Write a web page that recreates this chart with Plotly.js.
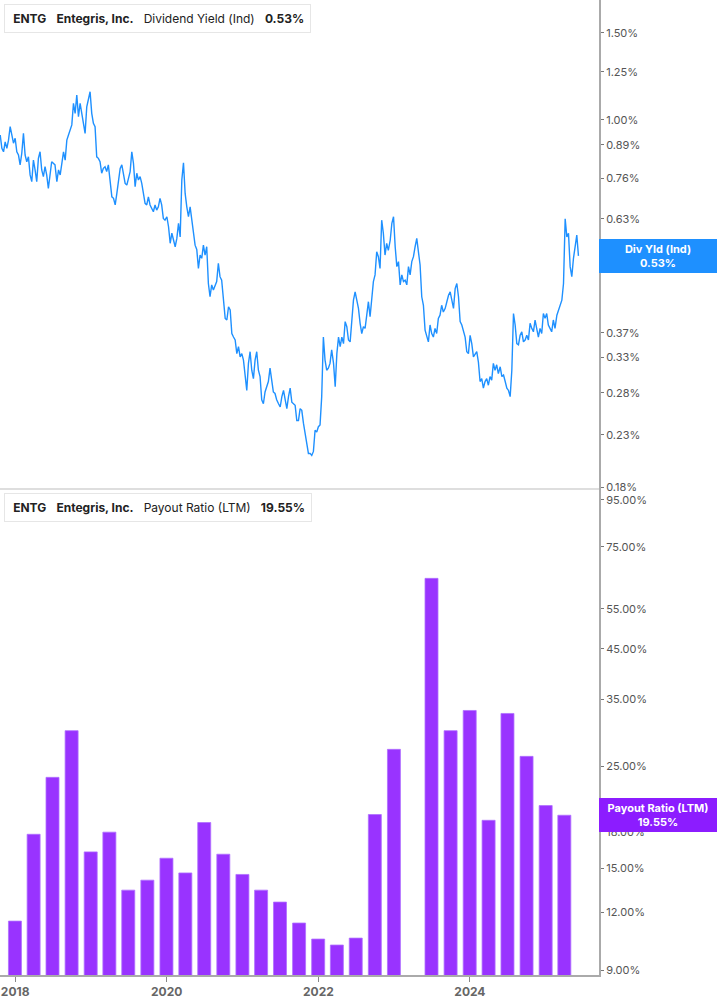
<!DOCTYPE html>
<html>
<head>
<meta charset="utf-8">
<script src="https://cdn.plot.ly/plotly-3.0.1.min.js"></script>
<style>
  html, body { margin: 0; padding: 0; background: #fff; }
  #chart { width: 717px; height: 1005px; }
</style>
</head>
<body>
<div id="chart"></div>
<script>
// dividend yield (%), sampled about every 8 days from the start date
var yieldStart = '2017-10-21';
var yieldStepDays = 8.03;
var divYield = [
  0.931,0.875,0.861,0.902,0.875,0.909,0.968,0.931,0.896,0.917,
  0.861,0.848,0.810,0.855,0.938,0.848,0.822,0.841,0.773,0.749,
  0.828,0.791,0.749,0.835,0.861,0.791,0.767,0.803,0.773,0.726,
  0.779,0.822,0.816,0.810,0.749,0.791,0.773,0.822,0.861,0.828,
  0.909,0.931,0.953,0.976,1.079,1.030,1.122,1.014,1.079,1.030,
  0.983,0.938,1.062,1.096,1.139,1.030,0.983,0.968,0.841,0.835,
  0.822,0.779,0.797,0.803,0.785,0.810,0.743,0.698,0.693,0.672,
  0.709,0.761,0.797,0.810,0.773,0.743,0.737,0.767,0.785,0.861,
  0.816,0.732,0.779,0.755,0.767,0.743,0.709,0.677,0.672,0.698,
  0.672,0.661,0.651,0.672,0.656,0.666,0.693,0.672,0.631,0.626,
  0.636,0.607,0.562,0.589,0.570,0.553,0.575,0.617,0.579,0.755,
  0.818,0.709,0.666,0.636,
  0.666,0.621,0.589,0.557,0.546,0.500,0.532,0.524,0.557,0.532,
  0.553,0.466,0.438,0.463,0.452,0.463,0.470,0.512,0.481,0.473,
  0.425,0.396,0.393,0.418,0.412,0.369,0.363,0.358,0.336,0.347,
  0.331,0.336,0.326,0.306,0.283,0.321,0.339,0.311,0.299,0.326,
  0.339,0.311,0.302,0.271,0.266,0.281,0.290,0.295,0.314,0.295,
  0.281,0.279,0.271,0.266,0.262,0.275,0.283,0.271,0.260,0.275,
  0.286,0.268,0.266,0.264,0.246,0.246,0.260,0.258,0.243,0.232,
  0.218,0.211,0.211,0.209,0.213,0.235,0.233,0.239,0.241,0.275,
  0.363,0.326,0.311,0.314,0.321,0.342,0.321,0.288,0.336,0.363,
  0.347,0.363,0.352,0.390,0.381,0.358,0.355,0.402,0.431,0.448,
  0.428,0.415,0.387,0.369,0.381,0.378,0.402,0.428,0.399,0.431,
  0.470,0.485,0.540,0.528,
  0.500,0.626,0.589,0.532,0.562,0.544,0.570,0.617,0.636,0.553,
  0.504,0.516,0.463,0.485,0.470,0.473,0.463,0.504,0.485,0.516,
  0.528,0.553,0.575,0.540,0.508,0.438,0.421,0.375,0.363,0.355,
  0.384,0.369,0.363,0.378,0.369,0.396,0.402,0.421,0.408,0.415,
  0.428,0.441,0.448,0.431,0.415,0.455,0.466,0.438,0.390,0.384,
  0.372,0.363,0.339,0.336,0.366,0.352,0.331,0.336,0.339,0.323,
  0.295,0.299,0.286,0.295,0.299,0.290,0.302,0.297,0.321,0.311,
  0.319,0.306,0.316,0.302,0.304,0.295,0.286,0.283,0.275,0.311,
  0.405,0.384,0.352,0.350,0.366,0.372,0.355,0.358,0.366,0.358,
  0.387,0.378,0.372,0.393,0.378,0.363,0.378,0.369,0.405,0.396,
  0.405,0.384,0.378,0.372,0.393,0.378,0.402,0.412,0.425,0.431,
  0.466,0.630,0.579,0.589,0.504,0.481,0.524,0.553,0.584,0.530
];

// payout ratio (LTM, %) at quarter ends
var payoutDates = [
  '2017-12-31','2018-03-31','2018-06-30','2018-09-30','2018-12-31',
  '2019-03-31','2019-06-30','2019-09-30','2019-12-31','2020-03-31',
  '2020-06-30','2020-09-30','2020-12-31','2021-03-31','2021-06-30',
  '2021-09-30','2021-12-31','2022-03-31','2022-06-30','2022-09-30',
  '2022-12-31','2023-03-31','2023-06-30','2023-09-30','2023-12-31',
  '2024-03-31','2024-06-30','2024-09-30','2024-12-31','2025-03-31'
];
var payout = [
  11.50,17.77,23.64,29.87,16.27,
  17.96,13.43,14.12,15.76,14.64,
  18.85,16.08,14.53,13.43,12.65,
  11.39,10.51,10.20,10.56,19.62,
  27.20,null,64.08,29.87,33.05,
  19.06,32.56,26.26,20.52,19.55
];

var yieldTicks = [0.18,0.23,0.28,0.33,0.37,0.50,0.63,0.76,0.89,1.00,1.25,1.50];
var payoutTicks = [9,12,15,18,25,35,45,55,75,95];

var blue = '#1e90ff';
var purple = '#9933ff';
var font = 'Inter, "Open Sans", sans-serif';

var yieldDates = [];
var t0 = Date.parse(yieldStart + 'T00:00:00Z');
for (var i = 0; i < divYield.length; i++) {
  yieldDates.push(new Date(t0 + i * yieldStepDays * 864e5).toISOString().slice(0, 10));
}

var lastYield = divYield[divYield.length - 1];
var lastPayout = payout[payout.length - 1];

var data = [
  {
    x: yieldDates, y: divYield, xaxis: 'x', yaxis: 'y',
    type: 'scatter', mode: 'lines',
    line: {color: blue, width: 1.4},
    hoverinfo: 'x+y'
  },
  {
    x: payoutDates, y: payout, xaxis: 'x2', yaxis: 'y2',
    type: 'bar',
    width: 62.6 * 864e5,
    marker: {color: purple, line: {color: '#b070ff', width: 0.8}},
    hoverinfo: 'x+y'
  }
];

var xRange = ['2017-10-20', '2025-09-14'];
var split = 488 / 975;

var sp = '\u00a0\u00a0\u00a0';

var layout = {
  width: 717, height: 1005,
  margin: {l: 0, r: 118, t: 0, b: 30},
  paper_bgcolor: '#fff', plot_bgcolor: '#fff',
  showlegend: false,
  font: {family: font, color: '#555'},
  xaxis: {
    type: 'date', range: xRange, anchor: 'y', domain: [0, 1],
    showticklabels: false, ticks: '', showgrid: false, zeroline: false,
    showline: true, linecolor: '#dedede', linewidth: 2
  },
  xaxis2: {
    type: 'date', range: xRange, anchor: 'y2', domain: [0, 1],
    tick0: '2018-01-01', dtick: 'M24', tickformat: '%Y',
    ticks: 'outside', ticklen: 5, tickcolor: '#888',
    showgrid: false, zeroline: false,
    showline: true, linecolor: '#aaa', linewidth: 2,
    tickfont: {family: font, size: 12, color: '#666', weight: 700}
  },
  yaxis: {
    type: 'log', side: 'right', anchor: 'x', domain: [1 - split + 0.0005, 1],
    range: [Math.log10(0.18), 0.2423],
    tickvals: yieldTicks, ticktext: yieldTicks.map(function (v) { return v.toFixed(2) + '%'; }),
    ticks: 'outside', ticklen: 3, tickcolor: '#777',
    showgrid: false, zeroline: false,
    showline: true, linecolor: '#aaa', linewidth: 2,
    tickfont: {family: font, size: 11, color: '#555'}
  },
  yaxis2: {
    type: 'log', side: 'right', anchor: 'x2', domain: [0, 1 - split + 0.0005],
    range: [0.9434, 2.0045],
    tickvals: payoutTicks, ticktext: payoutTicks.map(function (v) { return v.toFixed(2) + '%'; }),
    ticks: 'outside', ticklen: 3, tickcolor: '#777',
    showgrid: false, zeroline: false,
    showline: true, linecolor: '#aaa', linewidth: 2,
    tickfont: {family: font, size: 11, color: '#555'}
  },
  shapes: [
    {type: 'rect', xref: 'paper', yref: 'paper', x0: 4 / 599, x1: 7.5 / 599,
     y0: (975 - 5) / 975, y1: (975 - 29) / 975, fillcolor: blue, line: {width: 0}, layer: 'above'},
    {type: 'rect', xref: 'paper', yref: 'paper', x0: 4 / 599, x1: 7.5 / 599,
     y0: (975 - 494) / 975, y1: (975 - 517) / 975, fillcolor: purple, line: {width: 0}, layer: 'above'}
  ],
  annotations: [
    {
      xref: 'paper', yref: 'paper', x: 4 / 599, y: (975 - 4) / 975,
      xanchor: 'left', yanchor: 'top', showarrow: false,
      text: '\u2009<b>ENTG</b>' + sp + '<b>Entegris, Inc.</b>' + sp + 'Dividend Yield (Ind)' + sp + '<b>' + lastYield.toFixed(2) + '%</b>',
      font: {family: font, size: 12, color: '#222'},
      bgcolor: '#fff', bordercolor: '#e6e6e6', borderwidth: 1, borderpad: 6
    },
    {
      xref: 'paper', yref: 'paper', x: 4 / 599, y: (975 - 493) / 975,
      xanchor: 'left', yanchor: 'top', showarrow: false,
      text: '\u2009<b>ENTG</b>' + sp + '<b>Entegris, Inc.</b>' + sp + 'Payout Ratio (LTM)' + sp + '<b>' + lastPayout.toFixed(2) + '%</b>',
      font: {family: font, size: 12, color: '#222'},
      bgcolor: '#fff', bordercolor: '#e6e6e6', borderwidth: 1, borderpad: 6
    },
    {
      xref: 'paper', yref: 'y', x: 1, y: Math.log10(lastYield),
      xanchor: 'left', yanchor: 'middle', showarrow: false,
      width: 112, align: 'center',
      text: '<b>Div Yld (Ind)</b><br><b>' + lastYield.toFixed(2) + '%</b>',
      font: {family: font, size: 11, color: '#fff'},
      bgcolor: blue, bordercolor: blue, borderwidth: 0, borderpad: 3
    },
    {
      xref: 'paper', yref: 'y2', x: 1, y: Math.log10(lastPayout),
      xanchor: 'left', yanchor: 'middle', showarrow: false,
      width: 112, align: 'center',
      text: '<b>Payout Ratio (LTM)</b><br><b>' + lastPayout.toFixed(2) + '%</b>',
      font: {family: font, size: 11, color: '#fff'},
      bgcolor: '#8c1cff', bordercolor: '#8c1cff', borderwidth: 0, borderpad: 3
    }
  ]
};

Plotly.newPlot('chart', data, layout, {displayModeBar: false, staticPlot: true});
</script>
</body>
</html>
